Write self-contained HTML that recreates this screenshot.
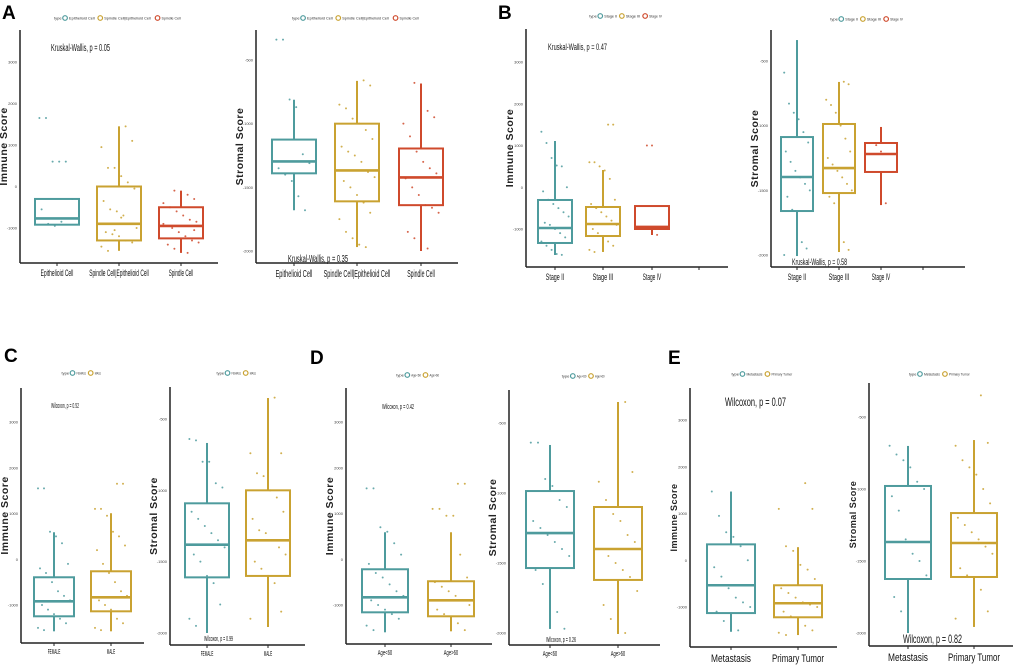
<!DOCTYPE html>
<html><head><meta charset="utf-8"><style>
html,body{margin:0;padding:0;background:#fff;overflow:hidden;}
svg{display:block;font-family:"Liberation Sans",sans-serif;}
</style></head><body>
<svg id="fig" width="1020" height="668" viewBox="0 0 1020 668">
<text x="2" y="19" font-size="19" font-weight="bold">A</text>
<text x="498" y="19" font-size="19" font-weight="bold">B</text>
<text x="4" y="362" font-size="19" font-weight="bold">C</text>
<text x="310" y="364" font-size="19" font-weight="bold">D</text>
<text x="668" y="364" font-size="19" font-weight="bold">E</text>
</svg>
<script>
// ---- data arrays ----
const catsA = ["Epithelioid Cell","Spindle Cell|Epithelioid Cell","Spindle Cell"];
const catsB = ["Stage II","Stage III","Stage IV"];
const catsC = ["FEMALE","MALE"];
const catsD = ["Age<60","Age>60"];
const catsE = ["Metastasis","Primary Tumor"];
const immuneTicks = [3000,2000,1000,0,-1000];
const stromalTicks = [-500,-1000,-1500,-2000];
const immuneTickLabels = ["3000","2000","1000","0","-1000"];
const stromalTickLabels = ["-500","-1000","-1500","-2000"];
// stats per group: [lowerWhisker, q1, median, q3, upperWhisker]
const statsAImm = [[-920,-920,-770,-300,-300],[-1550,-1300,-900,0,1450],[-1600,-1250,-950,-500,-100]];
const statsAStr = [[-1680,-1390,-1297,-1125,-812],[-1969,-1610,-1367,-1000,-664],[-2000,-1640,-1422,-1195,-687]];
const statsBImm = [[-1623,-1335,-976,-305,1108],[-1550,-1168,-880,-473,413],[-1144,-1000,-950,-450,-450]];
const statsBStr = [[-2008,-1660,-1397,-1088,-338],[-1977,-1521,-1328,-987,-662],[-1614,-1358,-1219,-1134,-1010]];
const statsCImm = [[-1575,-1247,-919,-394,590],[-1575,-1138,-831,-263,1006]];
const statsCStr = [[-2000,-1610,-1381,-1091,-668],[-1958,-1600,-1350,-1000,-353]];
const statsDImm = [[-1597,-1160,-831,-219,590],[-1575,-1247,-897,-481,590]];
const statsDStr = [[-1971,-1536,-1286,-986,-657],[-2007,-1621,-1400,-1100,-350]];
const statsEImm = [[-1530,-1130,-535,340,1470],[-1600,-1220,-920,-535,280]];
const statsEStr = [[-2000,-1625,-1368,-979,-701],[-1958,-1611,-1375,-1167,-660]];
// jittered points per group
const ptsAImm = [[1650,1650,600,600,600,-300,-550,-900,-950,-850],
 [1450,1100,950,450,450,250,100,-50,-350,-550,-600,-700,-900,-1000,-1100,-1150,-1200,-1300,-1350,-1450,-1550,-1050,-750],
 [-100,-150,-200,-300,-400,-500,-600,-700,-800,-850,-950,-1000,-1100,-1200,-1300,-1350,-1400,-1500,-1550,-1600,-1050,-900]];
const ptsAStr = [[-340,-340,-810,-870,-1240,-1310,-1350,-1400,-1450,-1570,-1680],
 [-660,-700,-850,-880,-960,-1000,-1050,-1120,-1180,-1220,-1250,-1300,-1380,-1420,-1450,-1500,-1560,-1620,-1700,-1750,-1850,-1900,-1950,-1970],
 [-680,-690,-900,-950,-1000,-1100,-1220,-1300,-1350,-1390,-1430,-1500,-1560,-1640,-1660,-1700,-1850,-1900,-1950,-1980]];
const ptsBImm = [[1330,1060,700,520,500,0,-100,-300,-400,-500,-600,-700,-850,-900,-1000,-1100,-1200,-1300,-1400,-1500,-1600,-1620],
 [1500,1500,600,600,500,400,200,-300,-400,-500,-600,-700,-800,-900,-1000,-1100,-1200,-1300,-1400,-1500,-1550],
 [1000,1000,-1140]];
const ptsBStr = [[-590,-830,-900,-950,-1050,-1130,-1200,-1280,-1350,-1400,-1450,-1500,-1550,-1650,-1700,-1900,-1950,-2000],
 [-660,-680,-800,-840,-900,-1000,-1100,-1200,-1250,-1300,-1350,-1400,-1450,-1500,-1550,-1600,-1700,-1900,-1960],
 [-1150,-1200,-1600]];
const ptsCImm = [[1550,1550,600,500,350,-100,-200,-300,-500,-700,-800,-900,-1000,-1100,-1200,-1300,-1400,-1500,-1550],
 [1650,1650,1100,1100,950,600,500,300,200,-100,-300,-500,-700,-800,-900,-1000,-1100,-1300,-1400,-1500,-1550]];
const ptsCStr = [[-640,-650,-800,-800,-950,-980,-1150,-1200,-1250,-1300,-1350,-1400,-1450,-1500,-1600,-1650,-1800,-1900,-1950],
 [-350,-740,-740,-880,-900,-1000,-1050,-1150,-1200,-1280,-1300,-1350,-1400,-1450,-1500,-1550,-1600,-1650,-1850,-1900]];
const ptsDImm = [[1550,1550,700,600,350,100,-100,-300,-400,-550,-700,-800,-900,-1000,-1100,-1200,-1300,-1450,-1550],
 [1650,1650,1100,1100,950,950,100,-400,-500,-600,-700,-800,-900,-1000,-1100,-1200,-1300,-1400,-1550]];
const ptsDStr = [[-640,-640,-900,-950,-1050,-1100,-1200,-1250,-1300,-1350,-1400,-1450,-1550,-1650,-1700,-1850,-1970],
 [-350,-850,-920,-1050,-1150,-1200,-1300,-1350,-1400,-1450,-1500,-1550,-1600,-1700,-1800,-1900,-1950,-2000]];
const ptsEImm = [[1470,950,600,500,300,0,-150,-350,-600,-800,-900,-1000,-1100,-1300,-1400,-1500],
 [1650,1100,1100,300,200,-100,-200,-400,-600,-700,-800,-900,-950,-1000,-1100,-1200,-1300,-1400,-1500,-1550,-1600]];
const ptsEStr = [[-700,-760,-800,-850,-950,-1000,-1050,-1150,-1350,-1450,-1500,-1600,-1750,-1850,-1960],
 [-350,-680,-700,-800,-850,-900,-1000,-1100,-1200,-1250,-1300,-1350,-1400,-1450,-1550,-1600,-1650,-1700,-1850,-1900]];

// ---- layout ----
const COLORS = ["#4e9b9d","#c9a231","#cf4a2c"];
const NS = "http://www.w3.org/2000/svg";
const svg = document.getElementById("fig");
function mk(tag, attrs, parent){ const e=document.createElementNS(NS,tag); for(const k in attrs) e.setAttribute(k,attrs[k]); (parent||svg).appendChild(e); return e; }

const panels = [
 {id:"a-immune", title:"Immune Score", cats:catsA, stats:statsAImm, pts:ptsAImm, ticks:immuneTicks, tl:immuneTickLabels,
  ax:20, top:30, bot:263, right:218, r:[[3000,62],[-1000,228]], cx:[57,119,181], hw:22, lab:"Kruskal-Wallis, p = 0.05", lx:51, ly:51, ls:10, lw:59, xs:9, cw:2.05, legY:18},
 {id:"a-stromal", title:"Stromal Score", cats:catsA, stats:statsAStr, pts:ptsAStr, ticks:stromalTicks, tl:stromalTickLabels,
  ax:256, top:30, bot:263, right:458, r:[[-500,60],[-2000,251]], cx:[294,357,421], hw:22, lab:"Kruskal-Wallis, p = 0.35", lx:288, ly:262, ls:10, lw:60, xs:10, cw:2.3, legY:18},
 {id:"b-immune", title:"Immune Score", cats:catsB, stats:statsBImm, pts:ptsBImm, ticks:immuneTicks, tl:immuneTickLabels,
  ax:526, top:29, bot:267, right:728, r:[[3000,62],[-1000,229]], cx:[555,603,652], extra:699, hw:17, lab:"Kruskal-Wallis, p = 0.47", lx:548, ly:50, ls:9, lw:59, xs:9, cw:2.3, legY:16},
 {id:"b-stromal", title:"Stromal Score", cats:catsB, stats:statsBStr, pts:ptsBStr, ticks:stromalTicks, tl:stromalTickLabels,
  ax:771, top:30, bot:267, right:965, r:[[-500,61],[-2000,255]], cx:[797,839,881], extra:923, hw:16, lab:"Kruskal-Wallis, p = 0.58", lx:792, ly:265, ls:9, lw:55, xs:9, cw:2.3, legY:19},
 {id:"c-immune", title:"Immune Score", cats:catsC, stats:statsCImm, pts:ptsCImm, ticks:immuneTicks, tl:immuneTickLabels,
  ax:21, top:388, bot:643, right:144, r:[[3000,422],[-1000,605]], cx:[54,111], hw:20, lab:"Wilcoxon, p = 0.52", lx:51, ly:408, ls:7, lw:28, xs:7, cw:2.1, legY:373},
 {id:"c-stromal", title:"Stromal Score", cats:catsC, stats:statsCStr, pts:ptsCStr, ticks:stromalTicks, tl:stromalTickLabels,
  ax:170, top:387, bot:645, right:305, r:[[-500,419],[-2000,633]], cx:[207,268], hw:22, lab:"Wilcoxon, p = 0.99", lx:204, ly:641, ls:7, lw:29, xs:7, cw:2.1, legY:373},
 {id:"d-immune", title:"Immune Score", cats:catsD, stats:statsDImm, pts:ptsDImm, ticks:immuneTicks, tl:immuneTickLabels,
  ax:346, top:388, bot:644, right:492, r:[[3000,422],[-1000,605]], cx:[385,451], hw:23, lab:"Wilcoxon, p = 0.42", lx:382, ly:409, ls:7, lw:32, xs:7, cw:2.4, legY:375},
 {id:"d-stromal", title:"Stromal Score", cats:catsD, stats:statsDStr, pts:ptsDStr, ticks:stromalTicks, tl:stromalTickLabels,
  ax:509, top:390, bot:645, right:660, r:[[-500,423],[-2000,633]], cx:[550,618], hw:24, lab:"Wilcoxon, p = 0.26", lx:546, ly:642, ls:7, lw:30, xs:7, cw:2.4, legY:376},
 {id:"e-immune", title:"Immune Score", cats:catsE, stats:statsEImm, pts:ptsEImm, ticks:immuneTicks, tl:immuneTickLabels,
  ax:690, top:388, bot:647, right:837, r:[[3000,420],[-1000,607]], cx:[731,798], hw:24, lab:"Wilcoxon, p = 0.07", lx:725, ly:406, ls:12, lw:61, xs:11, cw:4.0, legY:374},
 {id:"e-stromal", title:"Stromal Score", cats:catsE, stats:statsEStr, pts:ptsEStr, ticks:stromalTicks, tl:stromalTickLabels,
  ax:869, top:383, bot:646, right:1013, r:[[-500,417],[-2000,633]], cx:[908,974], hw:23, lab:"Wilcoxon, p = 0.82", lx:903, ly:643, ls:12, lw:59, xs:11, cw:4.0, legY:374}
];

panels.forEach(p=>{
  const g = mk("g",{});
  
  
  const [v0,p0]=p.r[0], [v1,p1]=p.r[1];
  const y = v => p0 + (v-v0)*(p1-p0)/(v1-v0);
  // legend
  const leg = mk("g",{},g);
  
  
  const itemW = p.cats.map(c=>8 + c.length*1.7);
  const lw = 9 + itemW.reduce((a,b)=>a+b,0);
  let lx = (p.ax+p.right)/2 - lw/2;
  mk("text",{x:lx,y:p.legY+1.5,"font-size":4,fill:"#333"},leg).textContent="type";
  lx += 9;
  p.cats.forEach((c,i)=>{
    const ci = mk("circle",{cx:lx+2,cy:p.legY,r:2.3,fill:"none",stroke:COLORS[i],"stroke-width":1.2},leg);
    
    
    mk("text",{x:lx+6,y:p.legY+1.3,"font-size":3.5,fill:"#333",textLength:c.length*1.6,lengthAdjust:"spacingAndGlyphs"},leg).textContent=c;
    lx += itemW[i];
  });
  // axes
  const yl = mk("line",{x1:p.ax,y1:p.top,x2:p.ax,y2:p.bot,stroke:"#222","stroke-width":1.5},g);
  
  
  const xl = mk("line",{x1:p.ax,y1:p.bot,x2:p.right,y2:p.bot,stroke:"#222","stroke-width":1.5},g);
  
  
  p.ticks.forEach((t,i)=>{
    const tt = mk("text",{x:p.ax-3,y:y(t)+1.5,"font-size":4,"text-anchor":"end",fill:"#444"},g);
    
    
    tt.textContent = p.tl[i];
  });
  // y title
  const ty = (p.top+p.bot)/2, tx = p.ax-13;
  const yt = mk("text",{x:tx,y:ty,"font-size":p.id[0]==="e"?9:10.5,"font-weight":"bold","text-anchor":"middle",fill:"#222","letter-spacing":"0.5",transform:`rotate(-90 ${tx} ${ty})`},g);
  
  
  yt.textContent = p.title;
  // stat label
  const st = mk("text",{x:p.lx,y:p.ly,"font-size":p.ls,fill:"#111",textLength:p.lw,lengthAdjust:"spacingAndGlyphs"},g);
  
  
  st.textContent = p.lab;
  if(p.extra){ mk("line",{x1:p.extra,y1:p.bot,x2:p.extra,y2:p.bot+3,stroke:"#222","stroke-width":1},g); }
  p.cats.forEach((c,i)=>{
    const cx = p.cx[i], col = COLORS[i], s = p.stats[i], hw = p.hw;
    mk("line",{x1:cx,y1:p.bot,x2:cx,y2:p.bot+3,stroke:"#222","stroke-width":1},g);
    const xt = mk("text",{x:cx,y:p.bot+4+p.xs,"font-size":p.xs,"text-anchor":"middle",fill:"#111",textLength:c.length*p.cw,lengthAdjust:"spacingAndGlyphs"},g);
    
    
    xt.textContent = c;
    const bg = mk("g",{},g);
    
    
    mk("line",{x1:cx,y1:y(s[0]),x2:cx,y2:y(s[1]),stroke:col,"stroke-width":2},bg);
    mk("line",{x1:cx,y1:y(s[3]),x2:cx,y2:y(s[4]),stroke:col,"stroke-width":2},bg);
    mk("rect",{x:cx-hw,y:y(s[3]),width:2*hw,height:Math.max(1,y(s[1])-y(s[3])),fill:"#fff",stroke:col,"stroke-width":2},bg);
    mk("line",{x1:cx-hw,y1:y(s[2]),x2:cx+hw,y2:y(s[2]),stroke:col,"stroke-width":2.6},bg);
    p.pts[i].forEach((v,k)=>{
      const jx = (((k*37+i*11)%17)-8)/8*hw*0.8;
      const pt = mk("circle",{cx:cx+jx,cy:y(v),r:1,fill:col,opacity:0.85},bg);
      
      
    });
  });
});
</script>
</body></html>
